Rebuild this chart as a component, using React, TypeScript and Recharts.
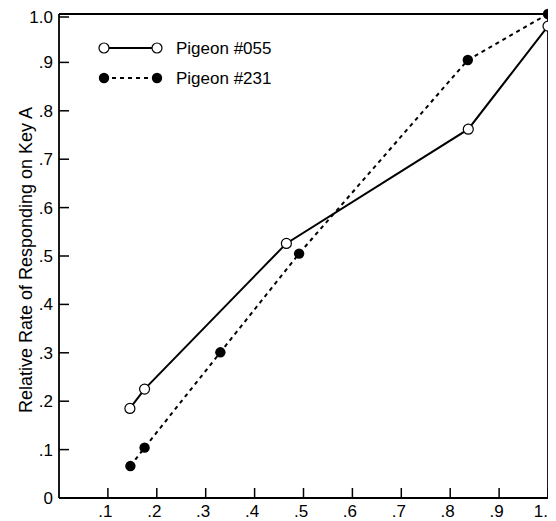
import React from 'react'
import { LineChart, Line, XAxis, YAxis, ReferenceLine, Label } from 'recharts'

const FONT = '"Liberation Sans", Arial, Helvetica, sans-serif'

const xTicks = [0.1, 0.2, 0.3, 0.4, 0.5, 0.6, 0.7, 0.8, 0.9, 1.0]
const yTicks = [0, 0.1, 0.2, 0.3, 0.4, 0.5, 0.6, 0.7, 0.8, 0.9, 1.0]

const pigeon055X = [0.145, 0.175, 0.465, 0.837, 1.0]
const pigeon055Y = [0.185, 0.225, 0.526, 0.762, 0.975]

const pigeon231X = [0.146, 0.175, 0.33, 0.491, 0.836, 1.0]
const pigeon231Y = [0.066, 0.104, 0.301, 0.505, 0.905, 1.0]

const data055 = pigeon055X.map((x, i) => ({ x, y: pigeon055Y[i] }))
const data231 = pigeon231X.map((x, i) => ({ x, y: pigeon231Y[i] }))

const fmt = (v: number) => (v === 0 ? '0' : v === 1 ? '1.0' : '.' + Math.round(v * 10))

const XTick = (props: any) => {
  const { x, y, payload } = props
  return (
    <g>
      <line x1={x} x2={x} y1={y} y2={y - 10} stroke="#000" strokeWidth={1.5} />
      <text x={x - 2.5} y={y + 19} textAnchor="middle" fontSize={17} fontFamily={FONT} fill="#000">
        {fmt(payload.value)}
      </text>
    </g>
  )
}

const YTick = (props: any) => {
  const { x, y, payload } = props
  return (
    <g>
      <line x1={x} x2={x + 10} y1={y} y2={y} stroke="#000" strokeWidth={1.5} />
      <text x={x - 6} y={y} dy="0.35em" textAnchor="end" fontSize={17} fontFamily={FONT} fill="#000">
        {fmt(payload.value)}
      </text>
    </g>
  )
}

const OpenDot = (props: any) => (
  <circle key={props.index} cx={props.cx} cy={props.cy} r={5} fill="#fff" stroke="#000" strokeWidth={1.2} />
)
const FilledDot = (props: any) => (
  <circle key={props.index} cx={props.cx} cy={props.cy} r={5.2} fill="#000" stroke="none" />
)

const LegendBox = () => (
  <svg width={210} height={62} style={{ display: 'block' }}>
    <line x1={14} x2={67} y1={18} y2={18} stroke="#000" strokeWidth={2} />
    <circle cx={14} cy={18} r={5} fill="#fff" stroke="#000" strokeWidth={1.2} />
    <circle cx={67} cy={18} r={5} fill="#fff" stroke="#000" strokeWidth={1.2} />
    <text x={86} y={24} fontSize={17} fontFamily={FONT} fill="#000">Pigeon #055</text>
    <line x1={14} x2={67} y1={48} y2={48} stroke="#000" strokeWidth={2} strokeDasharray="4 4" />
    <circle cx={14} cy={48} r={5.2} fill="#000" />
    <circle cx={67} cy={48} r={5.2} fill="#000" />
    <text x={86} y={54} fontSize={17} fontFamily={FONT} fill="#000">Pigeon #231</text>
  </svg>
)

export default function App() {
  return (
    <div style={{ position: 'relative', width: 548, height: 513 }}>
      <LineChart width={548} height={513} margin={{ top: 6, right: 8, bottom: 0, left: 0 }}>
        <XAxis
          type="number"
          dataKey="x"
          domain={[0, 1]}
          ticks={xTicks}
          tickSize={0}
          tickMargin={0}
          tickLine={false}
          tick={<XTick />}
          height={23}
          axisLine={{ stroke: '#000', strokeWidth: 1.8 }}
          allowDuplicatedCategory={false}
        />
        <YAxis
          type="number"
          dataKey="y"
          domain={[0, 1]}
          ticks={yTicks}
          tickSize={0}
          tickMargin={0}
          tickLine={false}
          tick={<YTick />}
          width={51}
          axisLine={{ stroke: '#000', strokeWidth: 1.8 }}
        >
          <Label
            content={() => (
              <text
                x={24}
                y={252}
                transform="rotate(-90, 24, 252)"
                textAnchor="middle"
                fontSize={18}
                fontFamily={FONT}
                fill="#000"
              >
                Relative Rate of Responding on Key A
              </text>
            )}
          />
        </YAxis>
        <ReferenceLine y={1} stroke="#000" strokeWidth={1.8} />
        <ReferenceLine x={1} stroke="#000" strokeWidth={1.8} />
        <Line
          data={data055}
          dataKey="y"
          name="Pigeon #055"
          stroke="#000"
          strokeWidth={2}
          dot={<OpenDot />}
          activeDot={false}
          isAnimationActive={false}
        />
        <Line
          data={data231}
          dataKey="y"
          name="Pigeon #231"
          stroke="#000"
          strokeWidth={2}
          strokeDasharray="4 4"
          dot={<FilledDot />}
          activeDot={false}
          isAnimationActive={false}
        />
      </LineChart>
      <div style={{ position: 'absolute', top: 22, left: 82 }}>
        <LegendBox />
      </div>
    </div>
  )
}
